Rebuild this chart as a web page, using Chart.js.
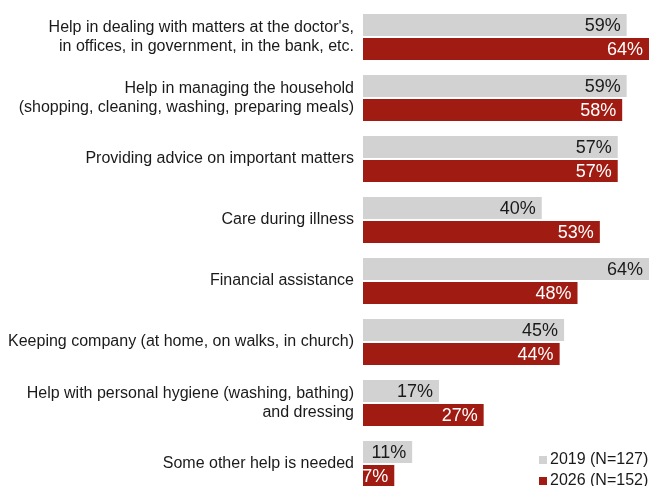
<!DOCTYPE html>
<html>
<head>
<meta charset="utf-8">
<script src="https://cdn.jsdelivr.net/npm/chart.js@4.4.0/dist/chart.umd.min.js"></script>
<style>
    html, body { margin: 0; padding: 0; background: #fff; }
    #outer { width: 651px; height: 486px; overflow: hidden; }
    #wrap { width: 651px; height: 500px; position: relative; }
</style>
</head>
<body>
<div id="outer"><div id="wrap"><canvas id="myChart"></canvas></div></div>
<script>
var categories = [
    ["Help in dealing with matters at the doctor's,", "in offices, in government, in the bank, etc."],
    ["Help in managing the household", "(shopping, cleaning, washing, preparing meals)"],
    "Providing advice on important matters",
    "Care during illness",
    "Financial assistance",
    "Keeping company (at home, on walks, in church)",
    ["Help with personal hygiene (washing, bathing)", "and dressing"],
    "Some other help is needed"
];
var values2019 = [59, 59, 57, 40, 64, 45, 17, 11];
var values2026 = [64, 58, 57, 53, 48, 44, 27, 7];
var seriesLabels = ["2019 (N=127)", "2026 (N=152)"];

var GRAY = '#d2d2d2';
var RED = '#a01b11';
var FONT = "Arial, 'Liberation Sans', sans-serif";

// value labels inside the bar end
var valueLabels = {
    id: 'valueLabels',
    afterDatasetsDraw: function(chart) {
        var c = chart.ctx;
        c.save();
        c.font = '18px ' + FONT;
        c.textAlign = 'right';
        c.textBaseline = 'middle';
        chart.data.datasets.forEach(function(ds, i) {
            var meta = chart.getDatasetMeta(i);
            c.fillStyle = i === 0 ? '#1a1a1a' : '#ffffff';
            meta.data.forEach(function(bar, j) {
                c.fillText(ds.data[j] + '%', bar.x - 6, bar.y + 1);
            });
        });
        c.restore();
    }
};

// small legend at bottom right
var cornerLegend = {
    id: 'cornerLegend',
    afterDraw: function(chart) {
        var c = chart.ctx;
        c.save();
        c.font = '16px ' + FONT;
        c.textAlign = 'left';
        c.textBaseline = 'middle';
        chart.data.datasets.forEach(function(ds, i) {
            var y = 460 + i * 21;
            c.fillStyle = ds.backgroundColor;
            c.fillRect(539, y - 4, 8, 8);
            c.fillStyle = '#1a1a1a';
            c.fillText(ds.label, 550, y);
        });
        c.restore();
    }
};

var ctx = document.getElementById('myChart');
var myChart = new Chart(ctx, {
    type: 'bar',
    data: {
        labels: categories,
        datasets: [{
            label: seriesLabels[0],
            data: values2019,
            backgroundColor: GRAY,
            categoryPercentage: 48 / 61,
            barPercentage: 22 / 24
        },
        {
            label: seriesLabels[1],
            data: values2026,
            backgroundColor: RED,
            categoryPercentage: 48 / 61,
            barPercentage: 22 / 24
        }]
    },
    options: {
        indexAxis: 'y',
        responsive: true,
        maintainAspectRatio: false,
        animation: false,
        layout: { padding: { top: 6.5, bottom: 5.5, left: 0, right: 2 } },
        plugins: {
            legend: { display: false },
            tooltip: { enabled: false }
        },
        scales: {
            x: {
                display: false,
                min: 0,
                max: 64
            },
            y: {
                grid: { display: false, drawTicks: false },
                border: { display: false },
                afterFit: function(scale) {
                    scale.width = 363;
                    scale.paddingTop = 0;
                    scale.paddingBottom = 0;
                },
                ticks: {
                    padding: 9,
                    color: '#1a1a1a',
                    font: { family: FONT, size: 16, lineHeight: 1.15 }
                }
            }
        }
    },
    plugins: [valueLabels, cornerLegend]
});
</script>
</body>
</html>
